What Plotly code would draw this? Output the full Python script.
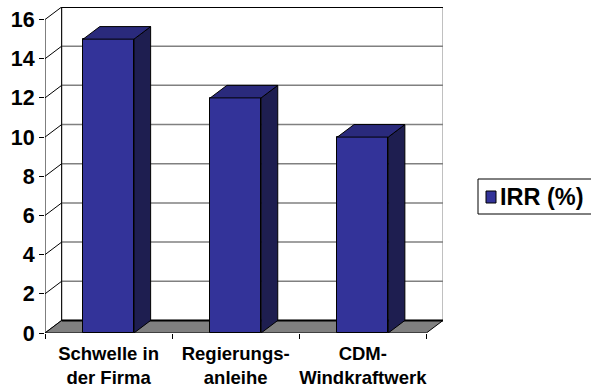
import plotly.graph_objects as go

categories = ["Schwelle in<br>der Firma", "Regierungs-<br>anleihe", "CDM-<br>Windkraftwerk"]
irr_values = [15, 12, 10]
series_name = "IRR (%)"
y_ticks = [0, 2, 4, 6, 8, 10, 12, 14, 16]

# 3D styling parameters
DX = 0.131   # depth offset in category units
DY = 0.64    # depth offset in value units
BW = 0.4     # bar width
YMAX = 16
FRONT = "#333399"
TOP = "#2A2A7C"
SIDE = "#1E1E50"
FONT = "Liberation Sans"

n = len(categories)
xs = list(range(n))
x0, x1 = -0.5, n - 0.5

fig = go.Figure()

def path_of(px, py, close=True):
    s = "M " + " L ".join(f"{a},{b}" for a, b in zip(px, py))
    return s + (" Z" if close else "")

def wall(px, py, fill, lc="black", lw=1.0):
    fig.add_shape(type="path", xref="x", yref="y", layer="below",
                  path=path_of(px, py), fillcolor=fill, line=dict(color=lc, width=lw))

def wline(px, py, color="black", width=1.0):
    fig.add_shape(type="path", xref="x", yref="y", layer="below",
                  path=path_of(px, py, close=False), line=dict(color=color, width=width))

def poly(px, py, fill, lc="black", lw=1):
    fig.add_trace(go.Scatter(x=px + [px[0]], y=py + [py[0]], mode="lines", fill="toself",
                             fillcolor=fill, line=dict(color=lc, width=lw),
                             hoverinfo="skip", showlegend=False))

# back wall
wall([x0 + DX, x1 + DX, x1 + DX, x0 + DX], [DY, DY, YMAX + DY, YMAX + DY], "white", lc="#808080", lw=1)
# gridlines on back wall
for v in y_ticks[1:-1]:
    wline([x0 + DX, x1 + DX], [v + DY, v + DY], color="#808080", width=1.5)
# top edge of back wall
wline([x0 + DX, x1 + DX], [YMAX + DY, YMAX + DY], color="black", width=2)
# left edge of back wall
wline([x0 + DX, x0 + DX], [DY, YMAX + DY], color="black", width=1)
# side wall diagonals
for v in y_ticks:
    wline([x0, x0 + DX], [v, v + DY], color="black", width=1)
# front left axis line
wline([x0, x0], [0, YMAX], color="black", width=1)
# floor
wall([x0, x1, x1 + DX, x0 + DX], [0, 0, DY, DY], "#808080", lc="black", lw=1)
wline([x0 + DX, x1 + DX], [DY, DY], color="black", width=2)

# bar front faces
fig.add_trace(go.Bar(x=xs, y=irr_values, width=BW, name=series_name,
                     marker=dict(color=FRONT, line=dict(color="black", width=1)),
                     showlegend=False))

# bar top and side faces
for xi, v in zip(xs, irr_values):
    l, r = xi - BW / 2, xi + BW / 2
    poly([r, r + DX, r + DX, r], [0, DY, v + DY, v], SIDE)
    poly([l, r, r + DX, l + DX], [v, v, v + DY, v + DY], TOP)

fig.update_layout(
    width=591, height=390,
    margin=dict(l=45, r=148, t=7, b=57),
    paper_bgcolor="white", plot_bgcolor="white",
    font=dict(family=FONT, color="black"),
    bargap=0,
    xaxis=dict(range=[x0, x1 + DX], tickvals=xs, ticktext=categories, showgrid=False,
               zeroline=False, showline=False, ticks="outside", ticklen=4,
               tickcolor="rgba(0,0,0,0)", automargin=False,
               tickfont=dict(family=FONT, size=18.5, weight="bold", color="black"),
               minor=dict(tick0=-0.5, dtick=1, ticks="outside", ticklen=5,
                          tickcolor="black", tickwidth=1, showgrid=False)),
    yaxis=dict(range=[0, YMAX + DY], tickvals=y_ticks, showgrid=False, zeroline=False,
               showline=False, ticks="outside", ticklen=5, tickcolor="black",
               automargin=False,
               tickfont=dict(family=FONT, size=21.5, weight="bold", color="black")),
    showlegend=False,
)

# legend box (manual, to match original layout)
fig.add_shape(type="rect", xref="paper", yref="paper",
              x0=(478 - 45) / 398, x1=(600 - 45) / 398,
              y0=(333 - 214) / 326, y1=(333 - 179) / 326,
              line=dict(color="black", width=1), fillcolor="white")
fig.add_shape(type="rect", xref="paper", yref="paper",
              x0=(486 - 45) / 398, x1=(496 - 45) / 398,
              y0=(333 - 203) / 326, y1=(333 - 191) / 326,
              line=dict(color="black", width=1), fillcolor=FRONT)
fig.add_annotation(xref="paper", yref="paper", x=(498 - 45) / 398, y=(333 - 197) / 326,
                   xanchor="left", yanchor="middle", showarrow=False, text=series_name,
                   font=dict(family=FONT, size=23.5, weight="bold", color="black"))

fig.write_html("out.html")
